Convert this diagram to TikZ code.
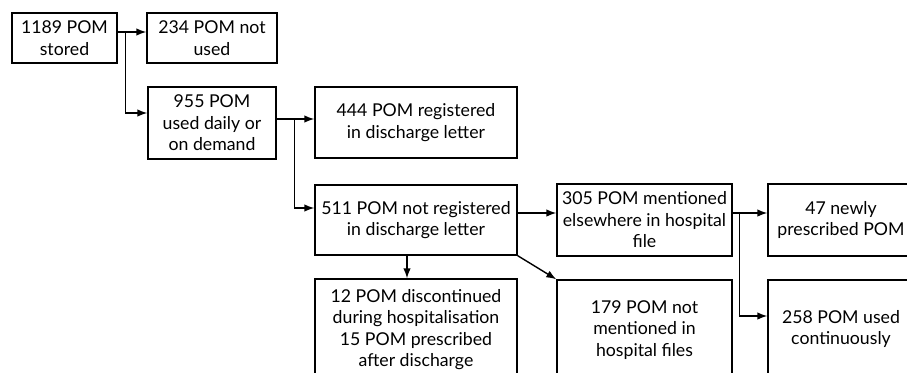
\documentclass[tikz,border=0pt]{standalone}
\usepackage{fontspec}
\setmainfont{Lato}
\usepackage{tikz}
\usetikzlibrary{arrows.meta}

\tikzset{
  pombox/.style={draw, line width=1.4pt, inner sep=0pt, align=center,
    font=\fontsize{17.7}{21.5}\selectfont},
  flow/.style={line width=1.4pt, -{Latex[length=10pt,width=7.5pt]}},
}

\begin{document}
\begin{tikzpicture}[x=1pt,y=-1pt]
        \useasboundingbox (0,0) rectangle (907,372);
        \clip (0,0) rectangle (907,372);

        \node[pombox, minimum width=105pt, minimum height=50pt] (stored) at (64.5,38) {1189 POM\\stored};
        \node[pombox, minimum width=130pt, minimum height=50pt] (notused) at (212,38) {234 POM not\\used};
        \node[pombox, minimum width=128pt, minimum height=72pt] (used) at (212,123) {955 POM\\used daily or\\on demand};
        \node[pombox, minimum width=202pt, minimum height=71pt] (registered) at (416,122.5) {444 POM registered\\in discharge letter};
        \node[pombox, minimum width=202pt, minimum height=70pt] (notreg) at (416,220) {511 POM not registered\\in discharge letter};
        \node[pombox, minimum width=175pt, minimum height=72pt] (elsewhere) at (644.5,220) {305 POM mentioned\\elsewhere in hospital\\file};
        \node[pombox, minimum width=146pt, minimum height=72pt] (newly) at (841,220) {47 newly\\prescribed POM};
        \node[pombox, minimum width=202pt, minimum height=101pt] (discont) at (416,329.5) {12 POM discontinued\\during hospitalisation\\15 POM prescribed\\after discharge};
        \node[pombox, minimum width=175pt, minimum height=100pt] (notmentioned) at (644.5,330) {179 POM not\\mentioned in\\hospital files};
        \node[pombox, minimum width=146pt, minimum height=98pt] (continuous) at (841,329) {258 POM used\\continuously};

        \draw[flow] ([yshift=6pt]stored.east) -- ([yshift=6pt]notused.west);
        \draw[flow] ([xshift=8pt,yshift=6pt]stored.east) |- ([yshift=10pt]used.west);
        \draw[flow] ([yshift=4pt]used.east) -- ([yshift=3.5pt]registered.west);
        \draw[flow] ([xshift=18pt,yshift=4pt]used.east) |- ([yshift=12pt]notreg.west);
        \draw[flow] ([yshift=7pt]notreg.east) -- ([yshift=7pt]elsewhere.west);
        \draw[flow] ([xshift=-9pt]notreg.south) -- ([xshift=-9pt]discont.north);
        \draw[flow] (notreg.south east) -- (notmentioned.north west);
        \draw[flow] ([yshift=7pt]elsewhere.east) -- ([yshift=7pt]newly.west);
        \draw[flow] ([xshift=7pt,yshift=7pt]elsewhere.east) |- ([yshift=13pt]continuous.west);
    \end{tikzpicture}
\end{document}
